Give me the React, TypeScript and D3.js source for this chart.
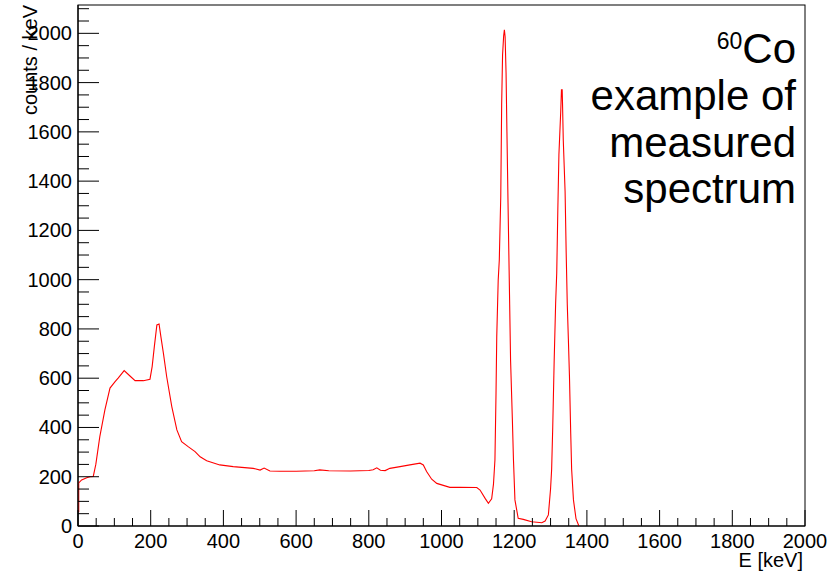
import React from "react";
import * as d3 from "d3";

const energy = [0, 2, 2, 10, 24, 33, 42, 49, 60, 74, 88, 102, 111, 127, 143, 157, 180, 198, 204, 210, 217, 223, 228, 235, 244, 258, 272, 285, 303, 322, 336, 354, 390, 427, 482, 501, 512, 528, 556, 600, 650, 665, 690, 750, 800, 812, 822, 832, 845, 858, 886, 913, 941, 950, 959, 973, 987, 1005, 1023, 1051, 1097, 1106, 1120, 1129, 1138, 1143, 1147, 1150, 1152, 1156, 1159, 1163, 1165.5, 1168, 1171, 1173, 1175, 1177.6, 1180, 1183, 1186, 1190, 1195, 1198, 1202, 1211, 1225, 1248, 1276, 1285, 1294, 1300, 1303, 1306, 1310, 1314, 1317, 1320, 1323, 1328, 1330, 1332, 1333, 1335, 1340, 1343, 1346, 1349, 1352, 1355.5, 1358, 1363, 1370, 1378];
const counts = [58, 58, 175, 187, 196, 200, 201, 250, 363, 471, 560, 586, 601, 631, 609, 590, 590, 596, 647, 728, 816, 820, 769, 701, 606, 485, 390, 342, 322, 302, 281, 265, 248, 241, 234, 227, 235, 223, 222, 222, 224, 228, 224, 223, 225, 228, 236, 226, 225, 234, 241, 248, 255, 248, 221, 190, 173, 165, 157, 157, 156, 146, 112, 92, 110, 170, 268, 540, 769, 999, 1080, 1336, 1710, 1913, 1990, 2014, 1986, 1840, 1600, 1312, 1040, 674, 430, 268, 106, 31, 27, 17, 13, 20, 45, 150, 230, 400, 674, 904, 1027, 1283, 1507, 1683, 1771, 1771, 1710, 1567, 1358, 1109, 900, 760, 610, 376, 230, 106, 30, 0];

const xMajorTicks = [0, 200, 400, 600, 800, 1000, 1200, 1400, 1600, 1800, 2000];
const yMajorTicks = [0, 200, 400, 600, 800, 1000, 1200, 1400, 1600, 1800, 2000];
const xTitle = "E [keV]";
const yTitle = "counts / keV";
const noteLines = ["example of", "measured", "spectrum"];

const W = 833;
const H = 573;
const L = 78, R = 805, T = 5, B = 526;
const FONT = "'Liberation Sans', Arial, Helvetica, sans-serif";

export default function App() {
  const x = d3.scaleLinear().domain([0, 2000]).range([L, R]);
  const y = d3.scaleLinear().domain([0, 2115]).range([B, T]);
  const pts = energy.map((e, i) => [e, counts[i]] as [number, number]);
  const line = d3.line<[number, number]>().x(d => x(d[0])).y(d => y(d[1]));
  const xMinor = d3.range(0, 2001, 50);
  const yMinor = d3.range(0, 2116, 50);

  return (
    <svg width={W} height={H} style={{ position: "absolute", left: 0, top: 0, background: "#fff" }} fontFamily={FONT}>
      <rect x={0} y={0} width={W} height={H} fill="#fff" />
      <rect x={L} y={T} width={R - L} height={B - T} fill="none" stroke="#000" strokeWidth={1} />
      <path d={line(pts) || ""} fill="none" stroke="#ff0000" strokeWidth={1.1} />
      {/* x axis */}
      <line x1={L} x2={R} y1={B} y2={B} stroke="#000" strokeWidth={1.2} />
      {xMinor.map(v => (
        <line key={"xm" + v} x1={x(v)} x2={x(v)} y1={B} y2={B - (v % 200 === 0 ? 16 : 8)} stroke="#000" strokeWidth={1} />
      ))}
      {xMajorTicks.map(v => (
        <text key={"xt" + v} x={x(v)} y={548} fontSize={20} textAnchor="middle">{v}</text>
      ))}
      <text x={803} y={567} fontSize={20} textAnchor="end">{xTitle}</text>
      {/* y axis */}
      <line x1={L} x2={L} y1={T} y2={B} stroke="#000" strokeWidth={1.2} />
      {yMinor.map(v => (
        <line key={"ym" + v} x1={L} x2={L + (v % 200 === 0 ? 21 : 11)} y1={y(v)} y2={y(v)} stroke="#000" strokeWidth={1} />
      ))}
      {yMajorTicks.map(v => (
        <text key={"yt" + v} x={72} y={y(v) + 7} fontSize={20} textAnchor="end">{v}</text>
      ))}
      <text transform={`translate(37,${T}) rotate(-90)`} fontSize={20} textAnchor="end">{yTitle}</text>
      {/* annotation */}
      <text x={796} y={63} fontSize={42} textAnchor="end">
        <tspan fontSize={23} dy={-14}>60</tspan>
        <tspan dy={14}>Co</tspan>
      </text>
      {noteLines.map((s, i) => (
        <text key={s} x={796} y={110 + i * 46.7} fontSize={42} textAnchor="end">{s}</text>
      ))}
    </svg>
  );
}
